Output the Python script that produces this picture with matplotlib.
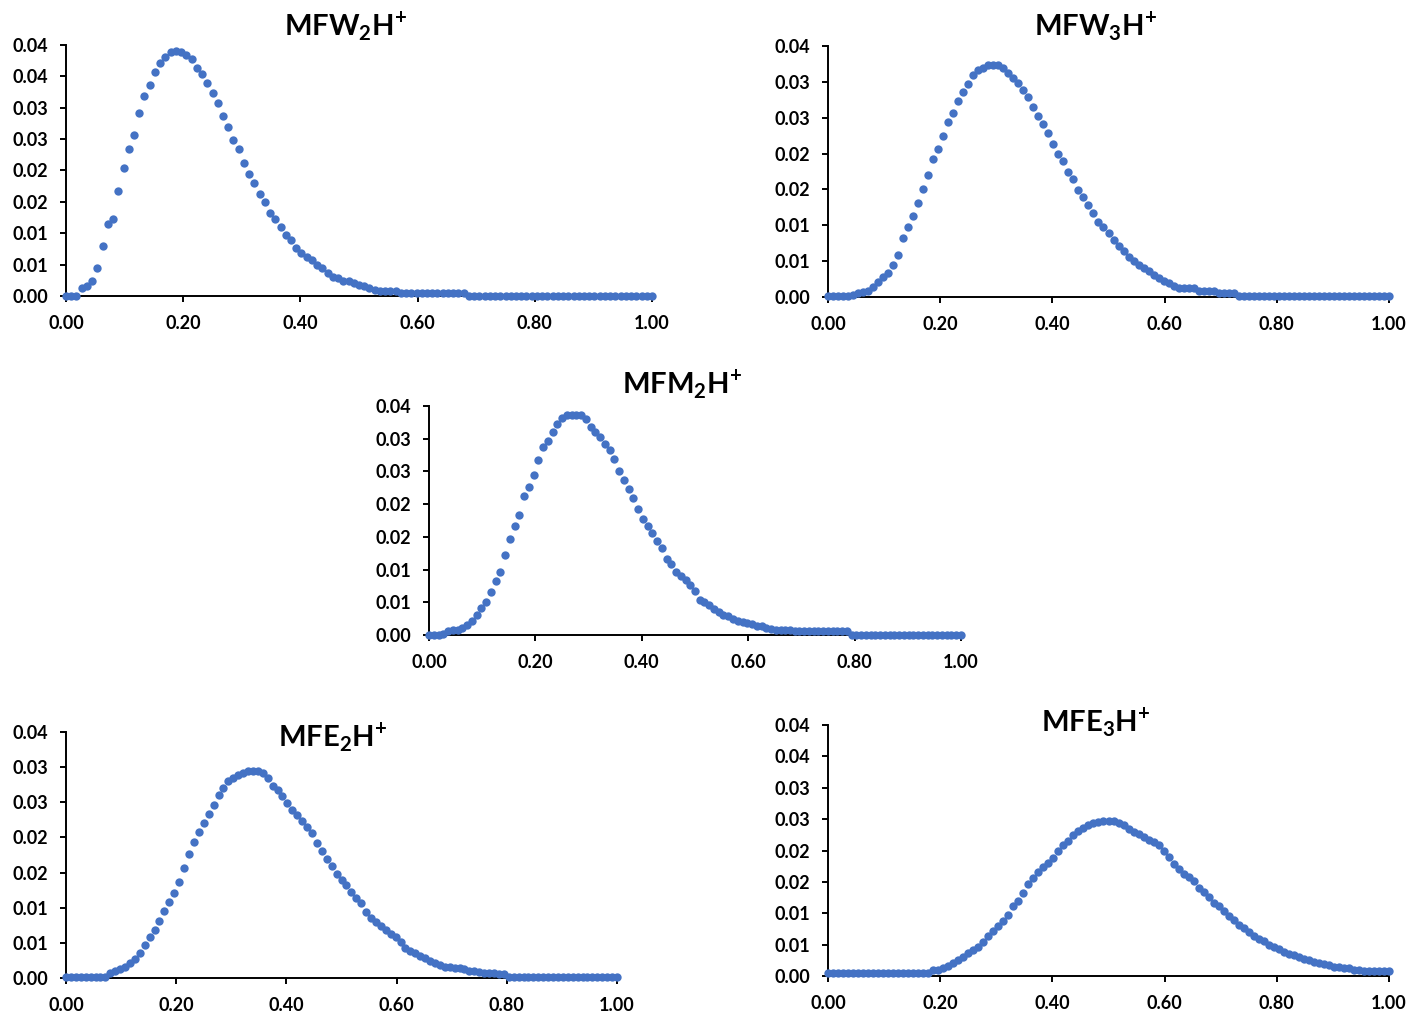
import numpy as np
import matplotlib
matplotlib.use("Agg")
import matplotlib.pyplot as plt
from matplotlib.ticker import FuncFormatter

plt.rcParams['font.family'] = ['Lato', 'DejaVu Sans']
plt.rcParams['font.weight'] = 'bold'
plt.rcParams['mathtext.fontset'] = 'custom'
plt.rcParams['mathtext.rm'] = 'Lato:bold'
plt.rcParams['mathtext.bf'] = 'Lato:bold'

# 113 evenly spaced fractions from 0 to 1
x = np.linspace(0, 1, 113)

mfw2 = [0, 0, 0, 0.0012, 0.0016, 0.0024, 0.0044, 0.0080, 0.0114, 0.0122,
        0.0168, 0.0204, 0.0234, 0.0256, 0.0292, 0.0319, 0.0336, 0.0357, 0.0372, 0.0381,
        0.0389, 0.0390, 0.0389, 0.0384, 0.0377, 0.0364, 0.0353, 0.0340, 0.0323, 0.0307,
        0.0287, 0.0270, 0.0248, 0.0234, 0.0212, 0.0195, 0.0180, 0.0163, 0.0150, 0.0133,
        0.0123, 0.0110, 0.0097, 0.0089, 0.0076, 0.0069, 0.0062, 0.0057, 0.0049, 0.0044,
        0.0036, 0.0031, 0.0028, 0.0024, 0.0024, 0.0020, 0.0017, 0.0016, 0.0012, 0.0010,
        0.0008, 0.0008, 0.0008, 0.0008,
        0.0005, 0.0005, 0.0005, 0.0005, 0.0005, 0.0005, 0.0005, 0.0005, 0.0005, 0.0005,
        0.0005, 0.0005, 0.0005,
        0, 0, 0, 0, 0, 0, 0, 0, 0, 0, 0, 0, 0, 0, 0, 0, 0, 0,
        0, 0, 0, 0, 0, 0, 0, 0, 0, 0, 0, 0, 0, 0, 0, 0, 0, 0]

mfw3 = [0.0001, 0.0001, 0.0001, 0.0001, 0.0001, 0.0003, 0.0005, 0.0007, 0.0009, 0.0014,
        0.0021, 0.0028, 0.0034, 0.0044, 0.0058, 0.0082, 0.0097, 0.0113, 0.0131, 0.0150,
        0.0170, 0.0192, 0.0206, 0.0224, 0.0244, 0.0257, 0.0273, 0.0286, 0.0297, 0.0310,
        0.0316, 0.0320, 0.0323, 0.0324, 0.0323, 0.0319, 0.0313, 0.0306, 0.0298, 0.0288,
        0.0279, 0.0265, 0.0253, 0.0241, 0.0229, 0.0214, 0.0200, 0.0190, 0.0175, 0.0164,
        0.0149, 0.0140, 0.0128, 0.0117, 0.0105, 0.0098, 0.0089, 0.0079, 0.0071, 0.0064,
        0.0056, 0.0050, 0.0045, 0.0040, 0.0036, 0.0031, 0.0027, 0.0022, 0.0019, 0.0016,
        0.0013, 0.0012, 0.0012, 0.0012, 0.0009, 0.0008, 0.0008, 0.0008, 0.0006, 0.0006,
        0.0006, 0.0005,
        0.0001, 0.0001, 0.0001, 0.0001, 0.0001, 0.0001, 0.0001, 0.0001, 0.0001, 0.0001,
        0.0001, 0.0001, 0.0001, 0.0001, 0.0001, 0.0001, 0.0001, 0.0001, 0.0001, 0.0001,
        0.0001, 0.0001, 0.0001, 0.0001, 0.0001, 0.0001, 0.0001, 0.0001, 0.0001, 0.0001,
        0.0001]

mfm2 = [0, 0, 0, 0.0002, 0.0006, 0.0007, 0.0008, 0.0011, 0.0016, 0.0022,
        0.0030, 0.0041, 0.0050, 0.0066, 0.0082, 0.0096, 0.0122, 0.0146, 0.0166, 0.0183,
        0.0212, 0.0226, 0.0245, 0.0268, 0.0287, 0.0297, 0.0311, 0.0323, 0.0332, 0.0336,
        0.0337, 0.0337, 0.0336, 0.0330, 0.0318, 0.0311, 0.0302, 0.0292, 0.0283, 0.0269,
        0.0251, 0.0237, 0.0223, 0.0209, 0.0193, 0.0177, 0.0166, 0.0156, 0.0144, 0.0133,
        0.0116, 0.0108, 0.0097, 0.0090, 0.0084, 0.0077, 0.0068, 0.0054, 0.0051, 0.0046,
        0.0040, 0.0035, 0.0031, 0.0029, 0.0025, 0.0022, 0.0020, 0.0018, 0.0017, 0.0014,
        0.0013, 0.0011, 0.0009, 0.0008, 0.0008, 0.0008, 0.0008,
        0.0006, 0.0006, 0.0006, 0.0006, 0.0006, 0.0006, 0.0006, 0.0006, 0.0006, 0.0006,
        0.0006, 0.0006,
        0, 0, 0, 0, 0, 0, 0, 0, 0, 0, 0, 0,
        0, 0, 0, 0, 0, 0, 0, 0, 0, 0, 0, 0]

mfe2 = [0.0002, 0.0002, 0.0002, 0.0002, 0.0002, 0.0002, 0.0002, 0.0002, 0.0002, 0.0007,
        0.0010, 0.0013, 0.0016, 0.0021, 0.0027, 0.0035, 0.0047, 0.0058, 0.0069, 0.0081,
        0.0095, 0.0108, 0.0121, 0.0137, 0.0157, 0.0176, 0.0193, 0.0208, 0.0220, 0.0234,
        0.0246, 0.0260, 0.0271, 0.0280, 0.0285, 0.0289, 0.0292, 0.0294, 0.0294, 0.0294,
        0.0292, 0.0285, 0.0273, 0.0268, 0.0259, 0.0249, 0.0239, 0.0232, 0.0223, 0.0215,
        0.0206, 0.0192, 0.0181, 0.0170, 0.0159, 0.0148, 0.0140, 0.0132, 0.0123, 0.0114,
        0.0106, 0.0094, 0.0085, 0.0080, 0.0074, 0.0068, 0.0063, 0.0058, 0.0051, 0.0043,
        0.0038, 0.0035, 0.0032, 0.0028, 0.0024, 0.0021, 0.0019, 0.0016, 0.0015, 0.0014,
        0.0014, 0.0013, 0.0010, 0.0010, 0.0008, 0.0007, 0.0007, 0.0007, 0.0006, 0.0006,
        0.0002, 0.0002, 0.0002, 0.0002, 0.0002, 0.0002, 0.0002, 0.0002, 0.0002, 0.0002,
        0.0002, 0.0002, 0.0002, 0.0002, 0.0002, 0.0002, 0.0002, 0.0002, 0.0002, 0.0002,
        0.0002, 0.0002, 0.0002]

mfe3 = [0.0005, 0.0005, 0.0005, 0.0005, 0.0005, 0.0005, 0.0005, 0.0005, 0.0005, 0.0005,
        0.0005, 0.0005, 0.0005, 0.0005, 0.0005, 0.0005, 0.0005, 0.0005, 0.0005, 0.0005,
        0.0005, 0.0009, 0.0009, 0.0012, 0.0016, 0.0021, 0.0026, 0.0031, 0.0037, 0.0041,
        0.0046, 0.0054, 0.0063, 0.0071, 0.0079, 0.0088, 0.0097, 0.0111, 0.0119, 0.0132,
        0.0147, 0.0156, 0.0166, 0.0173, 0.0180, 0.0188, 0.0199, 0.0208, 0.0215, 0.0224,
        0.0231, 0.0236, 0.0241, 0.0244, 0.0246, 0.0247, 0.0247, 0.0247, 0.0244, 0.0240,
        0.0235, 0.0230, 0.0226, 0.0221, 0.0216, 0.0213, 0.0208, 0.0200, 0.0189, 0.0179,
        0.0170, 0.0162, 0.0157, 0.0152, 0.0141, 0.0134, 0.0126, 0.0116, 0.0111, 0.0104,
        0.0096, 0.0090, 0.0082, 0.0077, 0.0070, 0.0064, 0.0059, 0.0055, 0.0050, 0.0047,
        0.0043, 0.0039, 0.0035, 0.0033, 0.0030, 0.0027, 0.0025, 0.0023, 0.0021, 0.0019,
        0.0017, 0.0015, 0.0014, 0.0013, 0.0013, 0.0010, 0.0009, 0.0008, 0.0008, 0.0008,
        0.0008, 0.0008, 0.0008]

titles = [r"MFW$_\mathbf{2}$H$^\mathbf{+}$", r"MFW$_\mathbf{3}$H$^\mathbf{+}$",
          r"MFM$_\mathbf{2}$H$^\mathbf{+}$", r"MFE$_\mathbf{2}$H$^\mathbf{+}$",
          r"MFE$_\mathbf{3}$H$^\mathbf{+}$"]
series = [mfw2, mfw3, mfm2, mfe2, mfe3]
ymax = [0.04, 0.035, 0.035, 0.035, 0.04]
xticks = [0, 0.2, 0.4, 0.6, 0.8, 1.0]

W, H = 1409, 1014
# axes boxes in pixels: left, right, y of 0, y of top
boxes = [(66, 652, 296, 45), (828, 1389, 297, 46), (429, 961, 635, 406),
         (66, 617, 978, 732), (828, 1389, 976, 725)]
title_pos = [(346, 27), (1096, 27), (682, 385), (333, 738), (1096, 723)]


def excel_fmt(v, pos):
    # Excel rounds half up
    return f"{np.floor(v * 100 + 0.5 + 1e-9) / 100:.2f}"


fig = plt.figure(figsize=(W / 100, H / 100), dpi=100)

for i in range(5):
    l, r, b, t = boxes[i]
    ax = fig.add_axes([l / W, 1 - b / H, (r - l) / W, (b - t) / H])
    ax.plot(x, series[i], 'o', color='#4472C4', ms=6, mew=0,
            clip_on=False, zorder=3)
    ax.set_xlim(0, 1)
    ax.set_ylim(0, ymax[i])
    ax.set_xticks(xticks)
    ax.xaxis.set_major_formatter(FuncFormatter(lambda v, p: f"{v:.2f}"))
    ax.set_yticks(np.arange(0, ymax[i] + 1e-9, 0.005))
    ax.yaxis.set_major_formatter(FuncFormatter(excel_fmt))
    for s in ['top', 'right']:
        ax.spines[s].set_visible(False)
    for s in ['left', 'bottom']:
        ax.spines[s].set_linewidth(1.4)
        ax.spines[s].set_color('black')
    ax.tick_params(direction='out', length=4, width=1.4, labelsize=13,
                   colors='black')
    ax.tick_params(axis='x', pad=9.5)
    ax.tick_params(axis='y', pad=9)
    fig.text(title_pos[i][0] / W, 1 - title_pos[i][1] / H, titles[i],
             ha='center', va='center', fontsize=21, fontweight='bold')

fig.savefig("out.png", dpi=100)
